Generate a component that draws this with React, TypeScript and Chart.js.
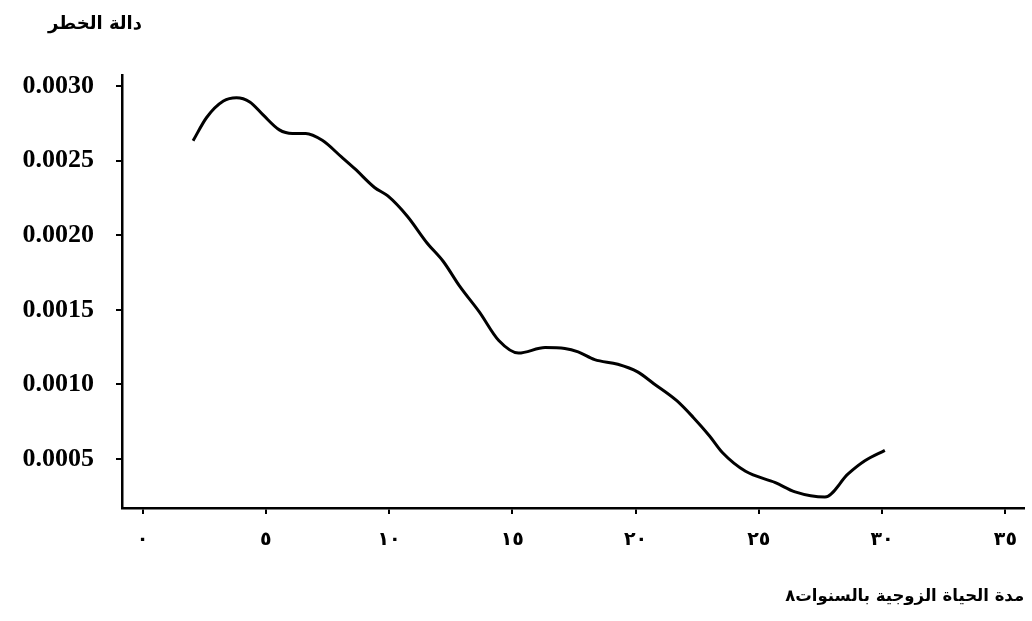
import React, { useEffect, useRef } from "react";
import { Chart, registerables } from "chart.js";

Chart.register(...registerables);

const years = [
  2.05, 2.6, 3.28, 3.81, 4.35, 4.88, 5.55, 6.08, 6.62, 7.29, 8.08, 8.62, 9.41, 9.95,
  10.74, 11.54, 12.2, 12.87, 13.66, 14.45, 15.25, 16.33, 17.13, 17.67, 18.34, 19.28,
  20.08, 20.74, 21.67, 22.34, 23.0, 23.53, 24.46, 25.67, 26.47, 27.68, 28.62, 29.3, 30.11,
];
const hazard = [
  0.002633, 0.002789, 0.002899, 0.002921, 0.002893, 0.002808, 0.002706, 0.002682, 0.002682,
  0.002636, 0.002523, 0.002444, 0.00232, 0.002263, 0.002127, 0.001948, 0.001824, 0.001657,
  0.001486, 0.001294, 0.00121, 0.001247, 0.001241, 0.001218, 0.001166, 0.001135, 0.001084,
  0.001005, 0.000891, 0.000779, 0.000655, 0.000542, 0.000418, 0.000342, 0.00028, 0.000245,
  0.0004, 0.000488, 0.000558,
];
const xTickValues = [0, 5, 10, 15, 20, 25, 30, 35];
const xTickLabels = ["٠", "٥", "١٠", "١٥", "٢٠", "٢٥", "٣٠", "٣٥"];
const yTickValues = [0.0005, 0.001, 0.0015, 0.002, 0.0025, 0.003];
const yTickLabels = ["0.0005", "0.0010", "0.0015", "0.0020", "0.0025", "0.0030"];
const yTitle = "دالة الخطر";
const xTitle = "مدة الحياة الزوجية بالسنوات٨";

const arabicFont = "'DejaVu Sans', sans-serif";

const topTitlePlugin = {
  id: "topTitle",
  afterDraw(chart: any) {
    const ctx = chart.ctx;
    ctx.save();
    ctx.font = "bold 18px 'DejaVu Sans', sans-serif";
    ctx.fillStyle = "#000";
    ctx.textAlign = "left";
    ctx.textBaseline = "middle";
    ctx.fillText(yTitle, 48, 24);
    ctx.restore();
  },
};

export default function App() {
  const ref = useRef<HTMLCanvasElement | null>(null);
  useEffect(() => {
    if (!ref.current) return;
    const chart = new Chart(ref.current, {
      type: "line",
      data: {
        datasets: [
          {
            data: years.map((x, i) => ({ x, y: hazard[i] })),
            borderColor: "#000",
            borderWidth: 3,
            pointRadius: 0,
            cubicInterpolationMode: "monotone",
            fill: false,
          },
        ],
      },
      plugins: [topTitlePlugin],
      options: {
        animation: false,
        responsive: false,
        devicePixelRatio: 1,
        layout: { padding: { left: 0, top: 75, right: 1, bottom: 4 } },
        plugins: {
          legend: { display: false },
          tooltip: { enabled: false },
          title: { display: false },
        },
        scales: {
          x: {
            type: "linear",
            min: -0.833,
            max: 35.76,
            afterBuildTicks: (scale: any) => {
              scale.ticks = xTickValues.map((v) => ({ value: v }));
            },
            afterFit: (scale: any) => {
              scale.height = 109;
            },
            ticks: {
              color: "#000",
              padding: 15,
              autoSkip: false,
              maxRotation: 0,
              font: { family: arabicFont, size: 19, weight: "bold" },
              callback: (_v: any, i: number) => xTickLabels[i],
            },
            grid: {
              display: true,
              drawOnChartArea: false,
              drawTicks: true,
              tickLength: 6,
              lineWidth: 2,
              color: "#000",
            },
            border: { display: true, color: "#000", width: 2.5 },
            title: {
              display: true,
              text: xTitle,
              align: "end",
              color: "#000",
              font: { family: arabicFont, size: 16.5, weight: "bold", lineHeight: 1.2 },
              padding: { top: 0, bottom: 10 },
            },
          },
          y: {
            type: "linear",
            min: 0.000172,
            max: 0.0030737,
            afterBuildTicks: (scale: any) => {
              scale.ticks = yTickValues.map((v) => ({ value: v }));
            },
            afterFit: (scale: any) => {
              scale.width = 122;
            },
            ticks: {
              color: "#000",
              padding: 22,
              autoSkip: false,
              font: { family: "'Liberation Serif', serif", size: 26, weight: "bold" },
              callback: (_v: any, i: number) => yTickLabels[i],
            },
            grid: {
              display: true,
              drawOnChartArea: false,
              drawTicks: true,
              tickLength: 6,
              lineWidth: 2,
              color: "#000",
            },
            border: { display: true, color: "#000", width: 2.5 },
          },
        },
      },
    });
    return () => chart.destroy();
  }, []);
  return (
    <div style={{ position: "absolute", left: 0, top: 0, width: 1032, height: 621, background: "#fff" }}>
      <canvas ref={ref} width={1032} height={621} style={{ display: "block" }} />
    </div>
  );
}
